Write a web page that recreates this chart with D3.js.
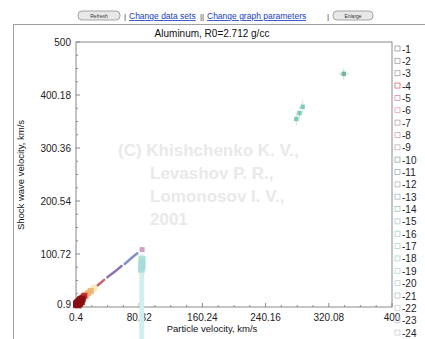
<!DOCTYPE html>
<html><head><meta charset="utf-8">
<script src="https://cdn.jsdelivr.net/npm/d3@7"></script>
<style>body{margin:0;background:#fff}svg{display:block;font-family:"Liberation Sans",Arial,sans-serif}</style>
</head><body><svg id="c" width="425" height="339"></svg>
<script>
// ---- data ----
const title = "Aluminum, R0=2.712 g/cc";
const xLabel = "Particle velocity, km/s";
const yLabel = "Shock wave velocity, km/s";
const xTicks = [0.4, 80.32, 160.24, 240.16, 320.08, 400];
const yTicks = [0.9, 100.72, 200.54, 300.36, 400.18, 500];
const legendNames = ["-1","-2","-3","-4","-5","-6","-7","-8","-9","-10","-11","-12","-13","-14","-15","-16","-17","-18","-19","-20","-21","-22","-23","-24"];
const legendColors = ["#8a9aa8","#a0a0a0","#b0a0a0","#d07070","#e090a0","#e0a0b0","#c0a0b0","#d0a8b8","#c0b0c0","#90a8b0","#a0b0b8","#a8b8c0","#a0c0c8","#a0c8c8","#b0c8d0","#a8d0d0","#b0d8d8","#a8d8d0","#b8d8d8","#c0d0d8","#b0c8c8","#c8d0d0","#c0c8d0","#c8d0d8"];
const sDarkRed = [[1,6],[2,7.5],[3,9],[4,10.5],[5,12],[6,13.5],[7,15],[8,16],[3,5],[5,8],[7,11]];
const sRed = [[2,9],[4,12],[6,15],[9,19],[11,22]];
const sOrange = [[10,18],[13,23],[16,27],[19,31]];
const sYellow = [[14,26],[18,30],[22,35],[24,38]];
const sDashRed = [[28,42],[36,52]];
const sDashPurple = [[40,57],[50,68],[58,78]];
const sDashBlue = [[62,82],[72,95],[78,102]];
const sPink = [[84,109]];
const sTealLow = [[83,72],[84,78],[83.5,84],[84,90]];
const tealBar = [[83.5,-70],[83.5,96]];
const sTealHigh = [[279,355],[283,366],[287,378]];
const sGreenHigh = [[339,440]];
const watermark = ["(C) Khishchenko K. V.,","Levashov P. R.,","Lomonosov I. V.,","2001"];

// ---- layout ----
const svg = d3.select("#c");
const L=76, R=392, T=42, B=307;
const x = d3.scaleLinear().domain([0.4,400]).range([L,R]);
const y = d3.scaleLinear().domain([0.9,500]).range([B,T]);

// outer frame
svg.append("line").attr("x1",13).attr("x2",425).attr("y1",24.5).attr("y2",24.5).attr("stroke","#a0a0a0");
svg.append("line").attr("x1",13.5).attr("x2",13.5).attr("y1",24).attr("y2",339).attr("stroke","#a0a0a0");

// header
const hdr = svg.append("g");
function btn(x0,w,txt){
  hdr.append("rect").attr("x",x0).attr("y",11).attr("width",w).attr("height",9).attr("rx",4)
    .attr("fill","#e8e8e8").attr("stroke","#909090").attr("stroke-width",0.8);
  hdr.append("text").attr("x",x0+w/2).attr("y",18).attr("text-anchor","middle").attr("font-size",5).attr("fill","#333").text(txt);
}
btn(78,42,"Refresh");
btn(333,40,"Enlarge");
hdr.append("text").attr("x",124).attr("y",19).attr("font-size",8).attr("fill","#333").text("|");
hdr.append("text").attr("x",129).attr("y",19).attr("font-size",8.5).attr("fill","#2040c0").attr("text-decoration","underline").text("Change data sets");
hdr.append("text").attr("x",200).attr("y",19).attr("font-size",8).attr("fill","#333").text("||");
hdr.append("text").attr("x",207).attr("y",19).attr("font-size",8.5).attr("fill","#2040c0").attr("text-decoration","underline").text("Change graph parameters");
hdr.append("text").attr("x",327).attr("y",19).attr("font-size",8).attr("fill","#333").text("|");

// title
svg.append("text").attr("x",212).attr("y",37).attr("text-anchor","middle").attr("font-size",10).attr("fill","#111").text(title);

// watermark
const wm = svg.append("g").attr("font-size",17).attr("font-weight","bold").attr("fill","#e9e9e9");
watermark.forEach((t,i)=>{
  wm.append("text").attr("x", i===0?118:150).attr("y",156+i*23).text(t);
});

// plot frame
svg.append("rect").attr("x",L).attr("y",T).attr("width",R-L).attr("height",B-T).attr("fill","none").attr("stroke","#888").attr("stroke-width",1);

// minor + major ticks
const minorX = d3.range(0,21).map(i=>0.4+i*(399.6/20));
const minorY = d3.range(0,21).map(i=>0.9+i*(499.1/20));
const tk = svg.append("g").attr("stroke","#888");
minorX.forEach((v,i)=>{ const l = i%4===0?4:2; tk.append("line").attr("x1",x(v)).attr("x2",x(v)).attr("y1",B).attr("y2",B-l); });
minorY.forEach((v,i)=>{ const l = i%4===0?4:2; tk.append("line").attr("x1",L).attr("x2",L+l).attr("y1",y(v)).attr("y2",y(v)); });

// tick labels
svg.append("g").selectAll("text").data(xTicks).join("text")
  .attr("x",d=>x(d)).attr("y",321).attr("text-anchor","middle").attr("font-size",10).attr("fill","#222").text(d=>d);
svg.append("g").selectAll("text").data(yTicks).join("text")
  .attr("x",71).attr("y",(d,i)=>i===0?y(d)+1:y(d)+3.5).attr("text-anchor","end").attr("font-size",10).attr("fill","#222").text(d=>d);

// axis labels
svg.append("text").attr("x",212).attr("y",332).attr("text-anchor","middle").attr("font-size",9.5).attr("fill","#111").text(xLabel);
svg.append("text").attr("transform","translate(24,175) rotate(-90)").attr("text-anchor","middle").attr("font-size",9.5).attr("fill","#111").text(yLabel);

// data
const pg = svg.append("g");
function pts(data,color,r,op){
  pg.append("g").selectAll("rect").data(data).join("rect")
    .attr("x",d=>x(d[0])-r).attr("y",d=>y(d[1])-r).attr("width",2*r).attr("height",2*r)
    .attr("fill",color).attr("opacity",op||1);
}
function seg(data,color,w){
  pg.append("path").datum(data).attr("d",d3.line().x(d=>x(d[0])).y(d=>y(d[1])))
    .attr("stroke",color).attr("stroke-width",w).attr("fill","none").attr("stroke-linecap","round");
}
seg(tealBar,"#d2eeee",5);
pts(sTealLow,"#a8dcd8",3.5,0.9);
pts(sYellow,"#f8e8b0",3,0.8);
pts(sOrange,"#f0b070",3,0.9);
pts(sRed,"#c83030",3);
pts(sDarkRed,"#8a1010",3.5);
seg(sDashRed,"#d06070",2.5);
seg(sDashPurple,"#9070b0",2.5);
seg(sDashBlue,"#8090c8",2.5);
pts(sPink,"#d0a0c8",2.5);
sTealHigh.forEach(d=>{
  pg.append("line").attr("x1",x(d[0])).attr("x2",x(d[0])).attr("y1",y(d[1]-12)).attr("y2",y(d[1]+12)).attr("stroke","#c8e8e4").attr("stroke-width",1);
});
pts(sTealHigh,"#80c8b8",2.2);
sGreenHigh.forEach(d=>{
  pg.append("line").attr("x1",x(d[0]-6)).attr("x2",x(d[0]+6)).attr("y1",y(d[1])).attr("y2",y(d[1])).attr("stroke","#b8e0c8");
  pg.append("line").attr("x1",x(d[0])).attr("x2",x(d[0])).attr("y1",y(d[1]-10)).attr("y2",y(d[1]+10)).attr("stroke","#b8e0c8");
});
pts(sGreenHigh,"#70b898",2.2);

// legend
const lg = svg.append("g");
legendNames.forEach((n,i)=>{
  const yy = 49 + i*12.35;
  lg.append("rect").attr("x",395).attr("y",yy-3).attr("width",5).attr("height",5).attr("fill","none").attr("stroke",legendColors[i]).attr("stroke-width",0.8);
  lg.append("text").attr("x",402).attr("y",yy+3.5).attr("font-size",10).attr("fill","#222").text(n);
});
</script></body></html>
